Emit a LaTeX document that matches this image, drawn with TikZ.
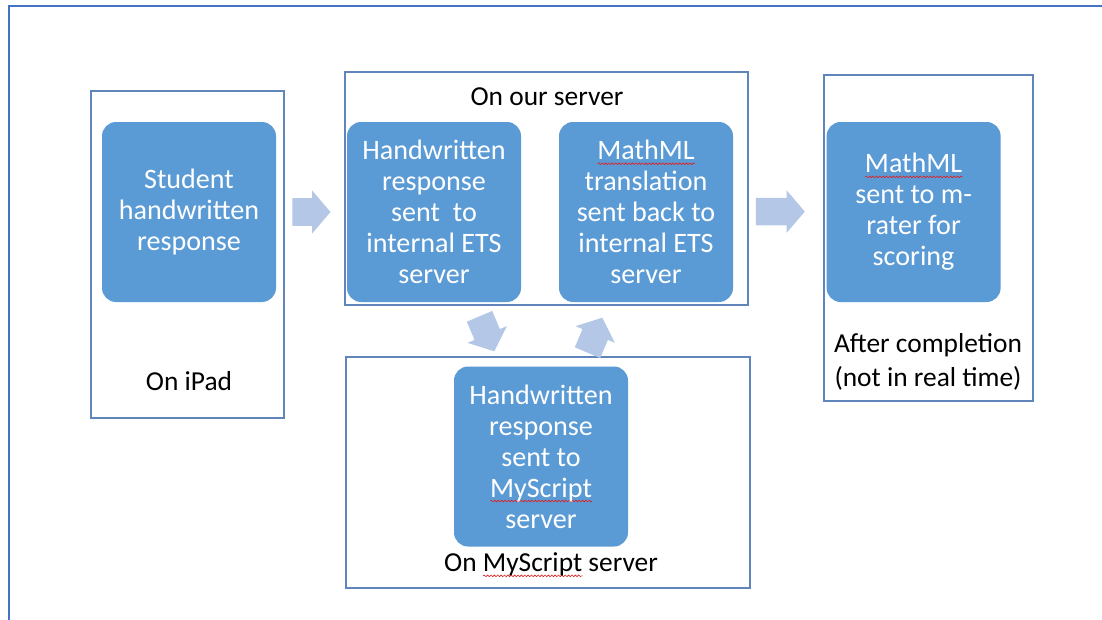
\documentclass[tikz,border=0pt]{standalone}
\usepackage{fontspec}
\setmainfont{Carlito}
\usepackage{xcolor}
\definecolor{msblue}{RGB}{91,155,213}
\definecolor{msframe}{RGB}{96,133,186}
\definecolor{msouter}{RGB}{68,114,196}
\definecolor{mslight}{RGB}{180,199,231}
\definecolor{msred}{RGB}{225,30,30}
\usetikzlibrary{arrows.meta,positioning,shapes.arrows,calc,decorations.pathmorphing}
\newlength{\spellwd}
\newcommand{\spellmark}[1]{\settowidth{\spellwd}{#1}\rlap{\tikz[baseline=0pt]\draw[msred, line width=0.45pt, sharp corners,
  decorate, decoration={snake, amplitude=0.6pt, segment length=2.4pt}] (0,-2.8pt) -- (\spellwd,-2.8pt);}#1}

\begin{document}
\begin{tikzpicture}[
    stage/.style={rectangle, rounded corners=10pt, minimum width=4.35cm, minimum height=4.5cm,
      fill=msblue, text=white, align=center, font=\fontsize{20}{22}\selectfont},
    group/.style={rectangle, draw=msframe, line width=0.9pt, fill=white},
    lbl/.style={align=center, font=\fontsize{19.5}{24.5}\selectfont},
    flow/.style={single arrow, fill=mslight, minimum height=0.95cm, inner xsep=0pt, inner ysep=0.3375cm,
      single arrow head extend=0.19cm, single arrow tip angle=99}
  ]
    \useasboundingbox (0,0) rectangle (27.55,-15.475);

    % Outer frame
    \draw[msouter, line width=1.4pt] (0.225,-15.6) -- (0.225,-0.15) -- (27.7,-0.15);

    % Group frames
    \node[group, minimum width=4.825cm, minimum height=8.175cm]  (ipad)  at (4.6875,-6.3625) {};
    \node[group, minimum width=10.075cm, minimum height=5.825cm] (ours)  at (13.6625,-4.7125) {};
    \node[group, minimum width=10.1cm, minimum height=5.775cm]   (mysc)  at (13.7,-11.8125) {};
    \node[group, minimum width=5.225cm, minimum height=8.15cm]   (after) at (23.2125,-5.95) {};

    % Steps
    \node[stage] (s1) at (4.725,-5.3)    {Student\\handwritten\\response};
    \node[stage] (s2) at (10.85,-5.3)    {Handwritten\\response\\sent\ \ to\\internal ETS\\server};
    \node[stage] (s3) at (16.15,-5.3)    {\spellmark{MathML}\\translation\\sent back to\\internal ETS\\server};
    \node[stage] (s4) at (22.84,-5.3)    {\spellmark{MathML}\\sent to m-\\rater for\\scoring};
    \node[stage] (s5) at (13.525,-11.4125) {Handwritten\\response\\sent to\\\spellmark{MyScript}\\server};

    % Group labels
    \node[lbl] (ipadlbl)  at (4.725,-9.525)  {On iPad};
    \node[lbl] (ourslbl)  at (13.675,-2.425) {On our server};
    \node[lbl] (mysclbl)  at (13.775,-14.125) {On \spellmark{MyScript} server};
    \node[lbl] (afterlbl) at (23.2,-9.05)    {After completion\\(not in real time)};

    % Block arrows
    \node[flow]                        (a1) at (7.64,-5.3)    {};
    \node[flow, minimum height=1.225cm] (a2) at (19.36,-5.29) {};
    \node[flow, rotate=-67]            (a3) at (12.115,-8.21) {};
    \node[flow, rotate=67]             (a4) at (14.815,-8.515) {};
  \end{tikzpicture}
\end{document}
